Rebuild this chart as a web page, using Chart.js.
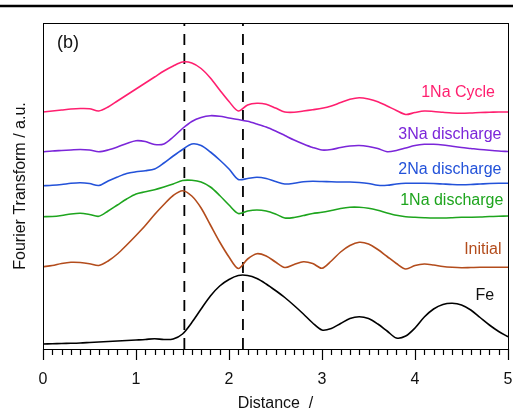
<!DOCTYPE html>
<html>
<head>
<meta charset="utf-8">
<script src="https://cdn.jsdelivr.net/npm/chart.js@4.4.1/dist/chart.umd.min.js"></script>
<style>
  html, body { margin: 0; padding: 0; background: #fff; }
  #wrap { width: 513px; height: 411px; }
</style>
</head>
<body>
<div id="wrap"><canvas id="ftChart" width="513" height="411"></canvas></div>
<script>
/*---- data (y in a.u. above the axis) ---- */

var distance = [];
for (var i = 0; i <= 50; i++) distance.push(Math.round(i * 10) / 100);

var naCycle1 = [237, 238, 239, 240, 240.5, 240.3, 238, 242, 248, 254,
	260, 266, 272, 278, 283, 287, 286, 280.5, 271, 259,
	247.5, 238, 244, 245.7, 244.7, 241, 237, 236.7, 238, 239.3,
	240.7, 243, 246.5, 249.7, 251.3, 250, 247.3, 243, 238.5, 234.5,
	236.5, 238, 237.5, 236.7, 236, 235.7, 236, 236.5, 236.7, 237, 237];

var naDis3 = [197.3, 198, 198.5, 199, 199.5, 199, 197.3, 199, 202, 205.5,
	208.3, 207.5, 204.5, 205, 212, 220.5, 227.5, 231.5, 233.3, 232.7,
	231, 229.5, 227.7, 225, 222, 218, 213.5, 209, 205, 201.5,
	199, 199.5, 201.5, 203, 203.5, 202.5, 200.5, 197.3, 198.5, 201,
	203.5, 204.7, 204.7, 204, 202.7, 201.5, 200.5, 199.5, 198.7, 198, 197.5];

var naDis2 = [163.3, 163.7, 164.5, 165.7, 166.3, 165.5, 163.5, 168, 172, 175.5,
	177.2, 178.3, 180, 186, 193, 199.5, 205, 203.5, 197, 189,
	180, 169.5, 170.5, 171.7, 170.5, 167.5, 165, 165.7, 167.3, 167.7,
	167.5, 167.2, 167, 167, 166.5, 165.5, 163.7, 163.7, 165, 165.7,
	165.7, 165.7, 165.5, 165, 164.5, 164.3, 164.5, 165, 165.5, 165.7, 165.7];

var naDis1 = [132.3, 132.5, 133.5, 135, 135.7, 134.5, 132.7, 138, 144, 150,
	155, 157.2, 159.3, 162, 165, 168.5, 168.7, 167, 162, 153.5,
	144, 135.5, 138, 139, 138, 135, 131, 131.5, 133.5, 135.5,
	136.7, 138.5, 140.5, 141.7, 141.7, 140.7, 138.7, 136, 133.7, 132.3,
	131.7, 131.3, 131, 131, 131.3, 131.7, 131.8, 132, 132.5, 132.8, 133];

var initial = [82.3, 83.5, 85.5, 86.7, 86.5, 85.3, 83.5, 88, 95, 104,
	113.5, 123.5, 134.5, 144.5, 153.5, 158.3, 153, 141, 124, 107,
	92, 80.5, 90, 95.3, 93, 87, 81.5, 84.5, 87.3, 85.5,
	80.7, 88, 97, 103.5, 106.7, 105, 99.5, 92.5, 85.5, 80,
	83.5, 85, 84, 82.5, 81.7, 81.3, 81.5, 81.7, 81.7, 81.7, 81.7];

var fe = [5, 5.2, 5.5, 5.7, 6, 6.5, 7, 7.5, 8, 8.5,
	9, 9.5, 10.3, 9.5, 10, 15, 26.5, 40, 53, 63,
	69.5, 73.5, 73.5, 70.5, 65, 58.5, 51.5, 43.5, 35, 26,
	19, 20.5, 25.5, 30.5, 32.3, 30.5, 25, 18, 11, 13,
	21, 32, 40, 44.5, 45.7, 44, 39, 31.5, 24, 17.5, 12.3];

var seriesNames = ["1Na Cycle", "3Na discharge", "2Na discharge", "1Na discharge", "Initial", "Fe"];
var seriesColors = ["#ff1f6f", "#7b26d9", "#2352d9", "#1ea51e", "#b34c1c", "#000000"];
var seriesValues = [naCycle1, naDis3, naDis2, naDis1, initial, fe];

var dashPositions = [1.52, 2.15];
var xTicks = [0, 1, 2, 3, 4, 5];
var yMax = 326;

/*---- datasets ---- */

var datasets = [];
for (var s = 0; s < seriesValues.length; s++) {
	var pts = [];
	for (var k = 0; k < distance.length; k++) {
		pts.push({ x: distance[k], y: seriesValues[s][k] });
	}
	datasets.push({
		label: seriesNames[s],
		data: pts,
		borderColor: seriesColors[s],
		borderWidth: 1.6,
		pointRadius: 0,
		tension: 0.3,
		fill: false
	});
}
dashPositions.forEach(function (p) {
	datasets.push({
		label: 'dash',
		data: [{ x: p, y: 0 }, { x: p, y: yMax }],
		borderColor: '#000',
		borderWidth: 1.8,
		borderDash: [11, 8],
		pointRadius: 0,
		tension: 0
	});
});

/*---- extra drawing: frame, minor ticks, labels ---- */

var decor = {
	id: 'decor',
	afterDraw: function (chart) {
		var c = chart.ctx, a = chart.chartArea, xs = chart.scales.x, ys = chart.scales.y;
		c.save();
		// frame
		c.strokeStyle = '#000';
		c.lineWidth = 1;
		c.strokeRect(a.left + 0.5, a.top + 0.5, a.right - a.left, a.bottom - a.top);
		// top rule of the figure
		c.lineWidth = 2.5;
		c.beginPath();
		c.moveTo(0, 6);
		c.lineTo(chart.width, 6);
		c.stroke();
		// ticks, every 0.1, longer on integers
		c.lineWidth = 1.2;
		for (var t = 0; t <= 50; t++) {
			var px = Math.round(xs.getPixelForValue(t / 10)) + 0.5;
			var len = (t % 10 === 0) ? 11 : 6;
			c.beginPath();
			c.moveTo(px, a.bottom);
			c.lineTo(px, a.bottom + len);
			c.stroke();
		}
		// series labels
		c.font = '16px Arial, "Liberation Sans", sans-serif';
		c.textAlign = 'right';
		c.textBaseline = 'middle';
		var lab = [
			[4.86, 256], [4.93, 214], [4.93, 179], [4.95, 148], [4.93, 99], [4.85, 53]
		];
		for (var n = 0; n < seriesNames.length; n++) {
			c.fillStyle = n === 5 ? '#111' : seriesColors[n];
			c.fillText(seriesNames[n], xs.getPixelForValue(lab[n][0]), ys.getPixelForValue(lab[n][1]));
		}
		c.fillStyle = '#111';
		c.textAlign = 'left';
		c.font = '18px Arial, "Liberation Sans", sans-serif';
		c.fillText('(b)', a.left + 14, a.top + 20);
		c.restore();
	}
};

var ctx = document.getElementById('ftChart').getContext('2d');
var ftChart = new Chart(ctx, {
	type: 'line',
	data: { datasets: datasets },
	plugins: [decor],
	options: {
		responsive: false,
		animation: false,
		layout: { padding: { top: 23, right: 5, left: 0, bottom: 0 } },
		plugins: {
			legend: { display: false },
			tooltip: { enabled: false }
		},
		scales: {
			x: {
				type: 'linear',
				min: 0,
				max: 5,
				afterBuildTicks: function (scale) {
					scale.ticks = xTicks.map(function (v) { return { value: v }; });
				},
				afterFit: function (scale) {
					scale.height = 62;
					scale.paddingLeft = 0;
					scale.paddingRight = 0;
				},
				ticks: {
					color: '#111',
					font: { family: 'Arial, "Liberation Sans", sans-serif', size: 16 },
					padding: 21,
					maxRotation: 0,
					autoSkip: false
				},
				grid: { display: false, drawTicks: false },
				border: { display: true, color: '#000', width: 1 },
				title: {
					display: true,
					text: 'Distance  /',
					color: '#111',
					font: { family: 'Arial, "Liberation Sans", sans-serif', size: 16, lineHeight: 1 },
					padding: { top: 0, bottom: -1 }
				}
			},
			y: {
				type: 'linear',
				min: 0,
				max: yMax,
				afterFit: function (scale) { scale.width = 43; },
				ticks: { display: false },
				grid: { display: false },
				border: { display: false },
				title: {
					display: true,
					text: 'Fourier Transform / a.u.',
					color: '#111',
					font: { family: 'Arial, "Liberation Sans", sans-serif', size: 16, lineHeight: 1 },
					padding: { top: 13, bottom: 0 }
				}
			}
		}
	}
});
</script>
</body>
</html>
